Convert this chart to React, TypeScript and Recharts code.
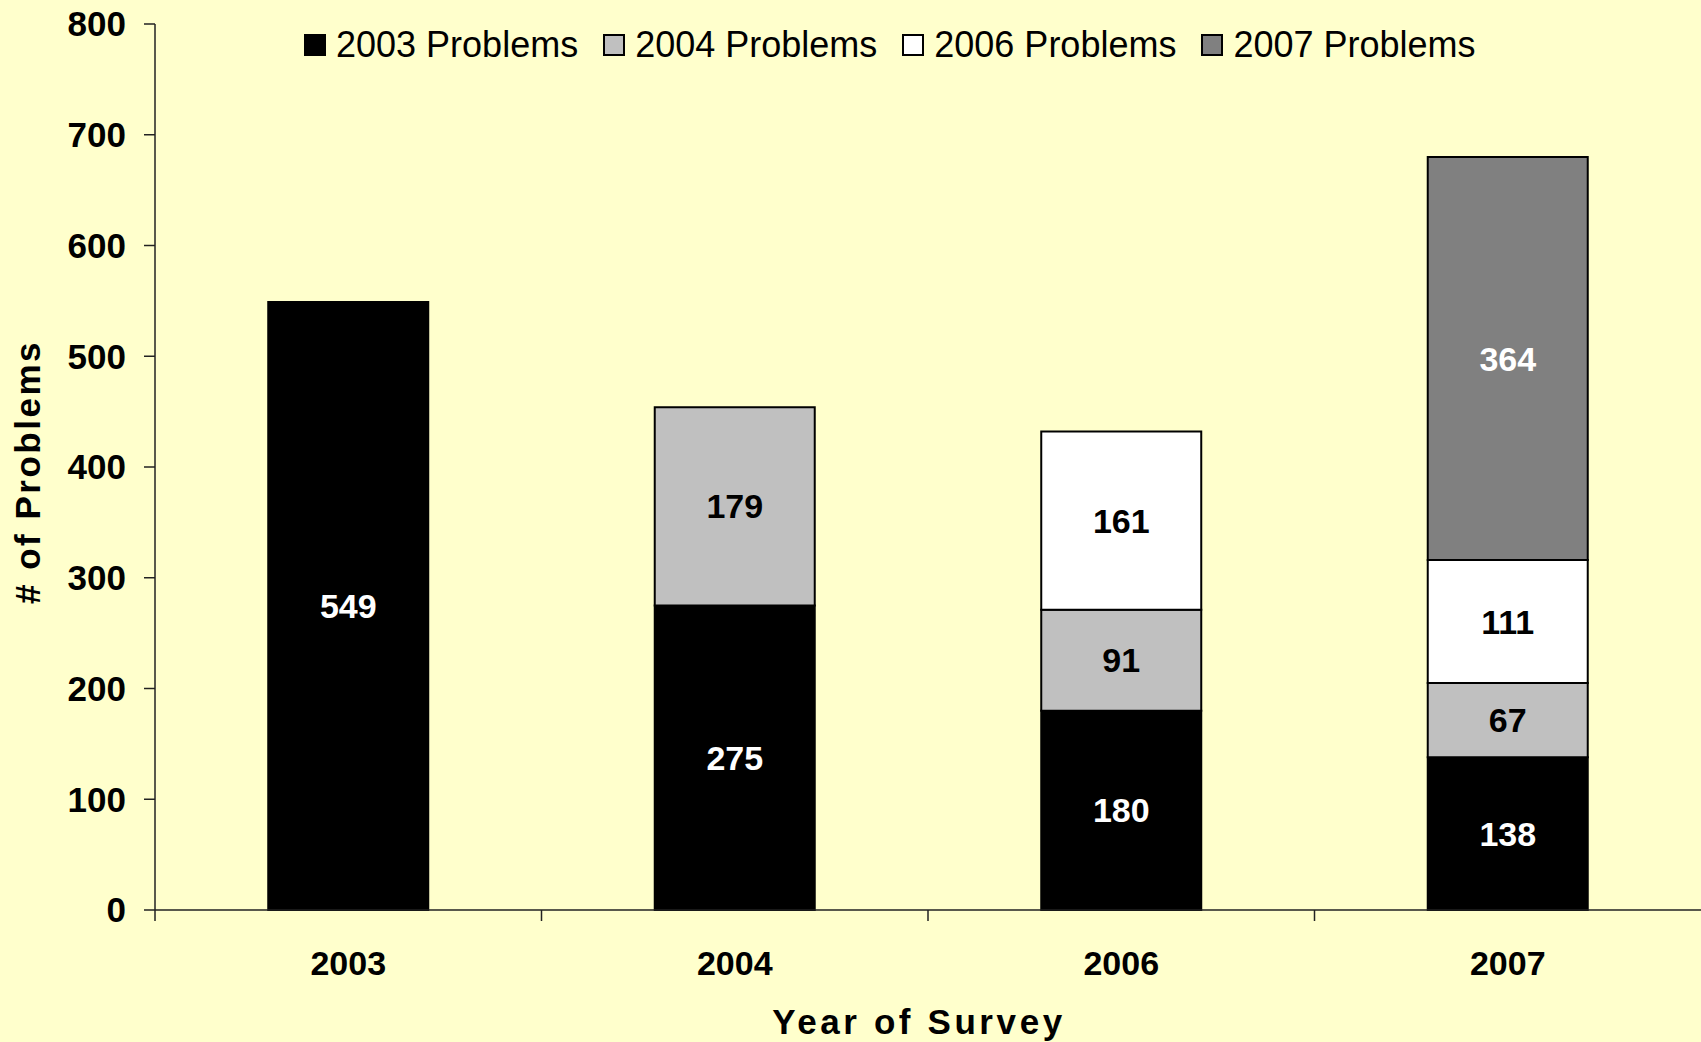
import React from 'react';
import { BarChart, Bar, XAxis, YAxis, Legend, LabelList } from 'recharts';

const categories = ['2003', '2004', '2006', '2007'];
const problems2003 = [549, 275, 180, 138];
const problems2004 = [null, 179, 91, 67];
const problems2006 = [null, null, 161, 111];
const problems2007 = [null, null, null, 364];
const yTicks = [0, 100, 200, 300, 400, 500, 600, 700, 800];

const seriesKeys = ['p2003', 'p2004', 'p2006', 'p2007'];
const seriesNames = ['2003 Problems', '2004 Problems', '2006 Problems', '2007 Problems'];
const seriesColors = ['#000000', '#C0C0C0', '#FFFFFF', '#808080'];
const labelColors = ['#FFFFFF', '#000000', '#000000', '#FFFFFF'];

const data = categories.map((c, i) => ({
  year: c,
  p2003: problems2003[i],
  p2004: problems2004[i],
  p2006: problems2006[i],
  p2007: problems2007[i],
}));

const FONT = '"Liberation Sans", Arial, sans-serif';

const XTick = (props: any) => {
  const { x, y, payload } = props;
  const half = payload && typeof payload.offset === 'number' ? payload.offset : 193;
  return (
    <g>
      <line x1={x - half} y1={y} x2={x - half} y2={y + 11} stroke="#222" strokeWidth={1.5} />
      <text
        x={x}
        y={y + 65}
        textAnchor="middle"
        fontFamily={FONT}
        fontWeight="bold"
        fontSize={34}
        fill="#000"
      >
        {payload.value}
      </text>
    </g>
  );
};

const LegendContent = () => (
  <div style={{ display: 'flex', flexDirection: 'row', alignItems: 'center', fontFamily: FONT }}>
    {seriesNames.map((n, i) => (
      <div key={n} style={{ display: 'flex', alignItems: 'center', marginRight: 25 }}>
        <div
          style={{
            width: 18,
            height: 18,
            background: seriesColors[i],
            border: '2px solid #000',
            marginRight: 10,
          }}
        />
        <span style={{ fontSize: 36, color: '#000', lineHeight: '40px' }}>{n}</span>
      </div>
    ))}
  </div>
);

export default function App() {
  return (
    <div style={{ position: 'absolute', left: 0, top: 0, width: 1701, height: 1042, background: '#FFFFCC', overflow: 'hidden' }}>
      <BarChart
        width={1701}
        height={1042}
        data={data}
        margin={{ top: 24, right: 0, left: 0, bottom: 0 }}
        barCategoryGap="29.3%"
      >
        <XAxis
          dataKey="year"
          height={132}
          tickLine={false}
          tickSize={0}
          tickMargin={0}
          axisLine={{ stroke: '#222', strokeWidth: 1.5 }}
          tick={<XTick />}
          interval={0}
          label={{
            value: 'Year of Survey',
            position: 'insideBottom',
            offset: 8,
            dx: -9,
            fontFamily: FONT,
            fontWeight: 'bold',
            fontSize: 35,
            fill: '#000',
            letterSpacing: 3.6,
          }}
        />
        <YAxis
          width={155}
          domain={[0, 800]}
          ticks={yTicks}
          interval={0}
          tickSize={11}
          tickMargin={18}
          axisLine={{ stroke: '#222', strokeWidth: 1.5 }}
          tickLine={{ stroke: '#222', strokeWidth: 1.5 }}
          tick={{ fontFamily: FONT, fontWeight: 'bold', fontSize: 35, fill: '#000' }}
          label={{
            value: '# of Problems',
            angle: -90,
            position: 'insideLeft',
            offset: 28,
            dy: 5,
            fontFamily: FONT,
            fontWeight: 'bold',
            fontSize: 35,
            fill: '#000',
            letterSpacing: 2.5,
            style: { textAnchor: 'middle' },
          }}
        />
        <Legend
          layout="horizontal"
          verticalAlign="middle"
          align="center"
          content={<LegendContent />}
          wrapperStyle={{ top: 25, left: 304, width: 1300, height: 40 }}
        />
        {seriesKeys.map((k, i) => (
          <Bar
            key={k}
            dataKey={k}
            name={seriesNames[i]}
            stackId="a"
            fill={seriesColors[i]}
            stroke="#000"
            strokeWidth={2}
            isAnimationActive={false}
          >
            <LabelList
              dataKey={k}
              position="center"
              fill={labelColors[i]}
              fontFamily={FONT}
              fontWeight="bold"
              fontSize={34}
            />
          </Bar>
        ))}
      </BarChart>
    </div>
  );
}
